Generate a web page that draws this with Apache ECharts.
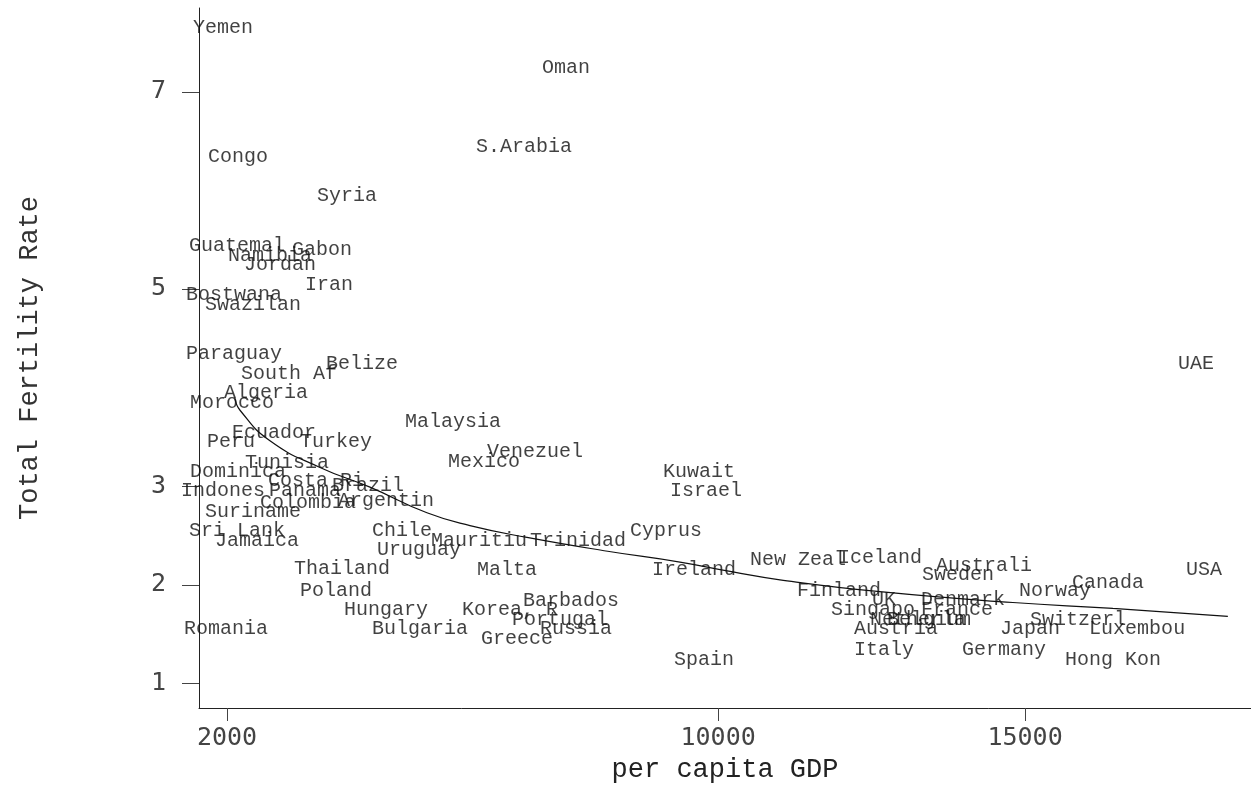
<!DOCTYPE html>
<html>
<head>
<meta charset="utf-8">
<script src="https://cdn.jsdelivr.net/npm/echarts@6/dist/echarts.min.js"></script>
<style>
html,body{margin:0;padding:0;background:#fff;}
#chart{width:1251px;height:792px;}
</style>
</head>
<body>
<div id="chart"></div>
<script>
var countries = ["Yemen","Oman","Congo","S.Arabia","Syria","Guatemal","Gabon","Namibia","Jordan","Iran",
"Bostwana","Swazilan","Paraguay","Belize","South Af","Algeria","Morocco","Malaysia","Ecuador","Peru",
"Turkey","Venezuel","Mexico","Tunisia","Kuwait","Dominica","Costa Ri","Brazil","Indones","Panama",
"Israel","Argentin","Colombia","Suriname","Sri Lank","Chile","Cyprus","Jamaica","Mauritiu","Trinidad",
"Uruguay","New Zeal","Iceland","Australi","Thailand","Malta","Ireland","USA","Sweden","Canada",
"Poland","Finland","Norway","UK","Denmark","Barbados","Hungary","Korea, R","Singapo","France",
"Portugal","Netherla","Belgium","Switzerl","Russia","Romania","Bulgaria","Austria","Japan","Luxembou",
"Greece","Italy","Germany","Spain","Hong Kon","UAE"];
var gdp = [1935,7523,2179,6838,3955,2163,3548,2700,2863,3662,
2114,2424,2114,4199,3010,2635,2081,5682,2766,2065,
3776,7018,6187,2977,9689,2179,3450,4297,1935,3271,
9803,4590,3320,2424,2163,4851,9152,2489,6105,7718,
5128,11302,12638,14332,3873,6561,9608,17916,13909,16352,
3776,11970,15489,12703,13990,7604,4590,6610,12524,13892,
7425,13257,13436,15864,7686,1984,5144,12899,15082,16825,
6724,12703,14658,9771,16434,17786];
var tfr = [7.65,7.24,6.34,6.44,5.95,5.44,5.40,5.34,5.25,5.04,
4.94,4.84,4.34,4.24,4.14,3.95,3.85,3.65,3.54,3.45,
3.45,3.35,3.25,3.24,3.15,3.15,3.06,3.00,2.95,2.95,
2.95,2.85,2.83,2.74,2.55,2.55,2.55,2.45,2.45,2.45,
2.36,2.25,2.27,2.19,2.16,2.15,2.15,2.15,2.10,2.02,
1.94,1.94,1.94,1.85,1.85,1.84,1.75,1.75,1.75,1.75,
1.65,1.65,1.65,1.65,1.55,1.55,1.55,1.55,1.55,1.55,
1.45,1.34,1.34,1.24,1.24,4.24];
var fitGdp = [2130,2212,2700,3515,4329,5257,5958,6886,8200,9378,10241,11007,12635,14801,16430,18303];
var fitTfr = [3.89,3.77,3.46,3.19,2.99,2.73,2.60,2.48,2.34,2.23,2.13,2.05,1.93,1.82,1.76,1.68];
var xTicks = [2000,10000,15000];
var yTicks = [1,2,3,5,7];

var pts = countries.map(function(c,i){ return [gdp[i], tfr[i], c]; });
var fit = fitGdp.map(function(g,i){ return [g, fitTfr[i]]; });

var chart = echarts.init(document.getElementById('chart'), null, {renderer:'canvas'});
chart.setOption({
  animation:false,
  backgroundColor:'#ffffff',
  grid:{left:199, right:0, top:8, bottom:84},
  xAxis:{
    type:'value', min:1544, max:18680,
    splitLine:{show:false},
    axisLine:{show:true, onZero:false, lineStyle:{color:'#222', width:1}},
    axisTick:{show:true, length:13, customValues:xTicks, lineStyle:{color:'#444'}},
    axisLabel:{show:true, customValues:xTicks, margin:18, color:'#444', fontFamily:'DejaVu Sans Mono', fontSize:25,
      formatter:function(v){return String(v);}},
    name:'per capita GDP', nameLocation:'middle', nameGap:46,
    nameTextStyle:{color:'#222', fontFamily:'Liberation Mono', fontSize:27}
  },
  yAxis:{
    type:'value', min:0.75, max:7.85,
    splitLine:{show:false},
    axisLine:{show:true, onZero:false, lineStyle:{color:'#222', width:1}},
    axisTick:{show:true, length:17, customValues:yTicks, lineStyle:{color:'#444'}},
    axisLabel:{show:true, customValues:yTicks, margin:33, color:'#444', fontFamily:'DejaVu Sans Mono', fontSize:25,
      formatter:function(v){return String(v);}},
    name:'Total Fertility Rate', nameLocation:'middle', nameGap:156,
    nameTextStyle:{color:'#333', fontFamily:'Liberation Mono', fontSize:27}
  },
  series:[
    {
      type:'line', data:fit, smooth:true, showSymbol:false, symbol:'none',
      lineStyle:{color:'#111', width:1.2}, z:3
    },
    {
      type:'scatter', data:pts, symbol:'circle', symbolSize:1,
      itemStyle:{color:'rgba(0,0,0,0)'},
      label:{show:true, position:'inside', formatter:function(p){return p.data[2];},
        color:'#111', fontFamily:'Liberation Mono', fontSize:20},
      z:4
    }
  ]
});
</script>
</body>
</html>
